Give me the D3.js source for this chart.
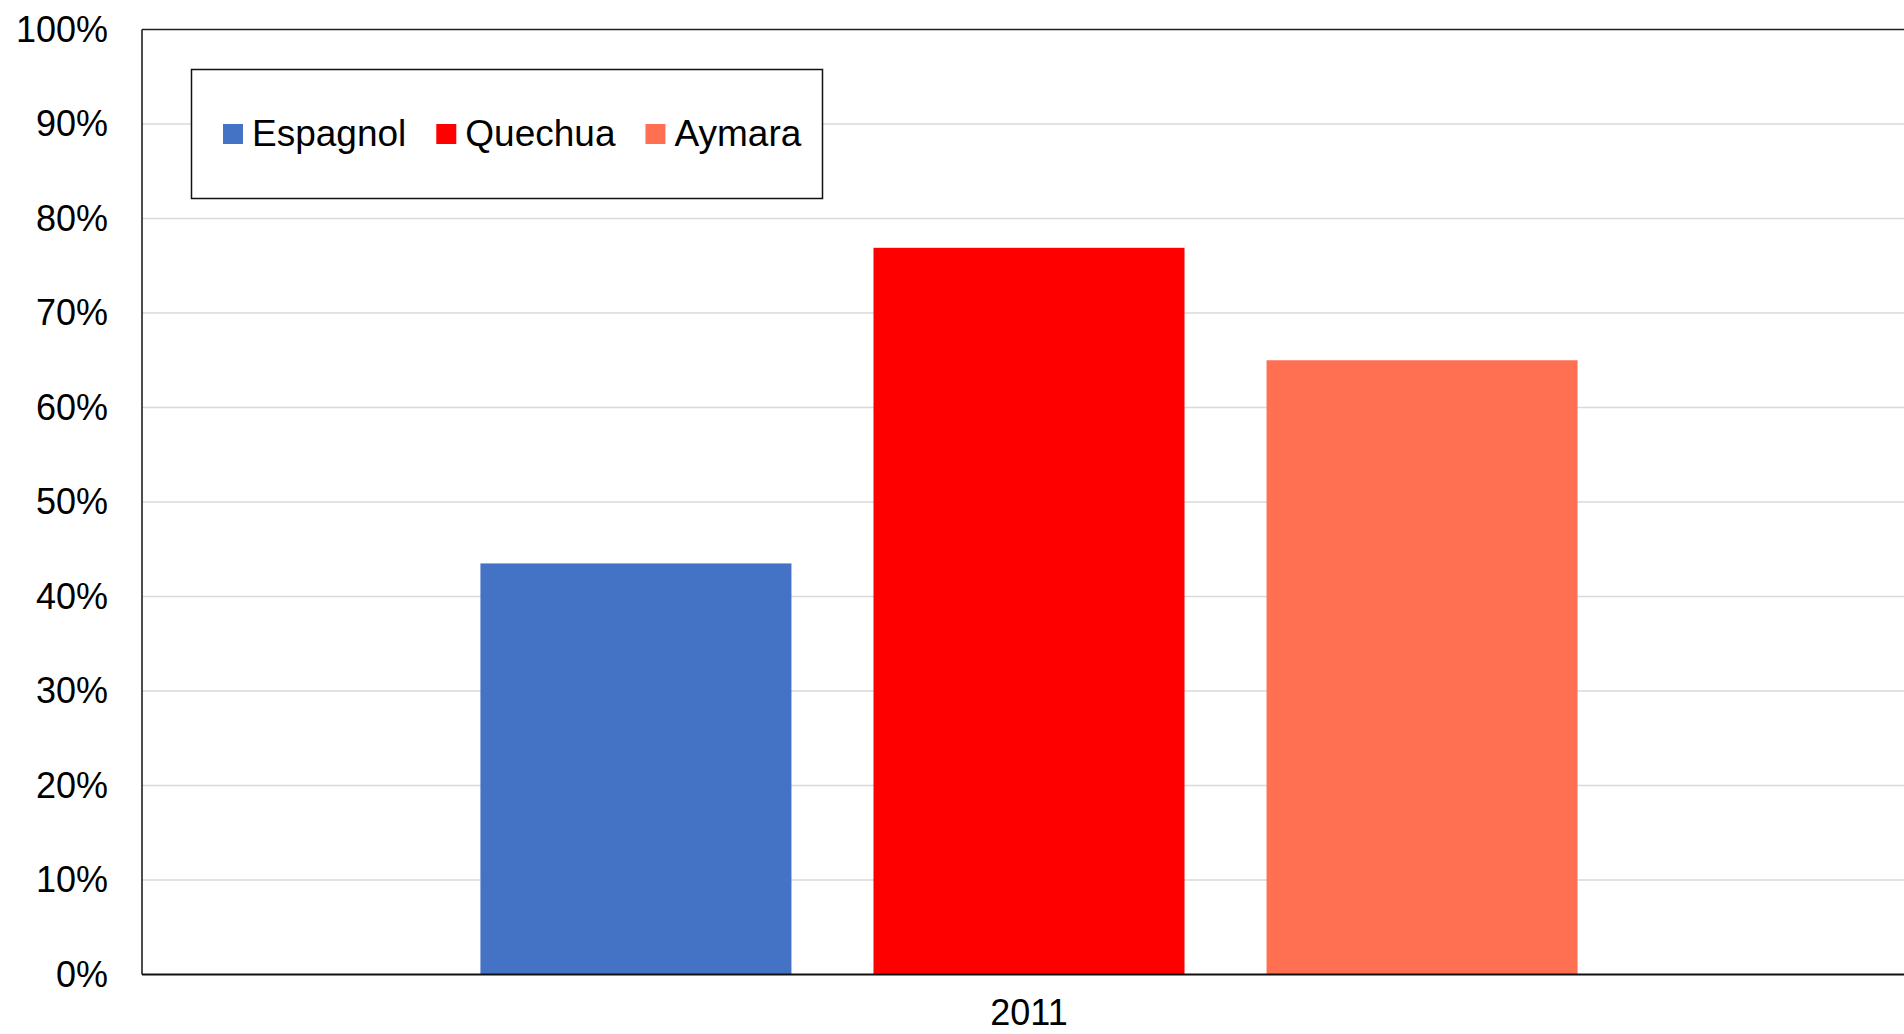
<!DOCTYPE html>
<head>
<meta charset="utf-8" />
<script src="https://d3js.org/d3.v7.min.js"></script>
<style>
    body { margin: 0; background: #fff; font-family: "Liberation Sans", Arial, sans-serif; }
    svg { display: block; }
</style>
</head>
<body>
<div id="chart"></div>
<script>
    // data
    var categories = ["2011"];
    var series = ["Espagnol", "Quechua", "Aymara"];
    var values = [0.435, 0.769, 0.650];
    var colors = ["#4472c4", "#ff0000", "#ff6f52"];
    var yTicks = [0, 0.1, 0.2, 0.3, 0.4, 0.5, 0.6, 0.7, 0.8, 0.9, 1];

    var width = 1904, height = 1034;
    var margin = { top: 29.5, left: 142, bottom: 59.5 };
    var plotRight = 1916;

    var svg = d3.select("#chart").append("svg")
        .attr("width", width)
        .attr("height", height);

    var y = d3.scaleLinear()
        .domain([0, 1])
        .range([height - margin.bottom, margin.top]);

    var x0 = d3.scaleBand()
        .domain(categories)
        .range([margin.left, plotRight]);

    var x1 = d3.scaleBand()
        .domain(series)
        .range([0, x0.bandwidth()])
        .paddingInner(0.2087)
        .paddingOuter(0.861);

    // gridlines
    svg.append("g")
        .selectAll("line")
        .data(yTicks.filter(function(d) { return d > 0 && d < 1; }))
        .join("line")
        .attr("x1", margin.left)
        .attr("x2", plotRight)
        .attr("y1", function(d) { return y(d); })
        .attr("y2", function(d) { return y(d); })
        .attr("stroke", "#d9d9d9")
        .attr("stroke-width", 1.5);

    // bars
    var rows = series.map(function(s, i) { return { key: s, value: values[i], color: colors[i], cat: categories[0] }; });
    svg.append("g")
        .selectAll("rect")
        .data(rows)
        .join("rect")
        .attr("x", function(d) { return x0(d.cat) + x1(d.key); })
        .attr("y", function(d) { return y(d.value); })
        .attr("width", x1.bandwidth())
        .attr("height", function(d) { return y(0) - y(d.value); })
        .attr("fill", function(d) { return d.color; });

    // frame: top, left, bottom
    svg.append("line")
        .attr("x1", margin.left).attr("x2", plotRight)
        .attr("y1", y(1)).attr("y2", y(1))
        .attr("stroke", "#222").attr("stroke-width", 1.5);
    svg.append("line")
        .attr("x1", margin.left).attr("x2", margin.left)
        .attr("y1", y(1)).attr("y2", y(0))
        .attr("stroke", "#111").attr("stroke-width", 1.5);
    svg.append("line")
        .attr("x1", margin.left).attr("x2", plotRight)
        .attr("y1", y(0)).attr("y2", y(0))
        .attr("stroke", "#111").attr("stroke-width", 1.8);

    // y tick labels
    var yAxis = d3.axisLeft(y)
        .tickValues(yTicks)
        .tickFormat(d3.format(".0%"))
        .tickSize(0)
        .tickPadding(34);
    svg.append("g")
        .attr("transform", "translate(" + margin.left + ",0)")
        .call(yAxis)
        .call(function(g) { g.select(".domain").remove(); })
        .selectAll("text")
        .attr("font-family", "Liberation Sans, Arial, sans-serif")
        .attr("font-size", 36)
        .attr("fill", "#000");

    // x axis label
    var xAxis = d3.axisBottom(x0).tickSize(0).tickPadding(25);
    svg.append("g")
        .attr("transform", "translate(0," + y(0) + ")")
        .call(xAxis)
        .call(function(g) { g.select(".domain").remove(); })
        .selectAll("text")
        .attr("font-family", "Liberation Sans, Arial, sans-serif")
        .attr("font-size", 36)
        .attr("fill", "#000");

    // legend
    var legend = svg.append("g");
    legend.append("rect")
        .attr("x", 191.5).attr("y", 69.5)
        .attr("width", 631).attr("height", 129)
        .attr("fill", "#fff")
        .attr("stroke", "#111")
        .attr("stroke-width", 1.5);

    var lx = 223;
    series.forEach(function(s, i) {
        legend.append("rect")
            .attr("x", lx).attr("y", 124)
            .attr("width", 20).attr("height", 20)
            .attr("fill", colors[i]);
        var t = legend.append("text")
            .attr("x", lx + 29).attr("y", 146)
            .attr("font-size", 37)
            .attr("fill", "#000")
            .text(s);
        lx += 29 + t.node().getComputedTextLength() + 30;
    });
</script>
</body>
